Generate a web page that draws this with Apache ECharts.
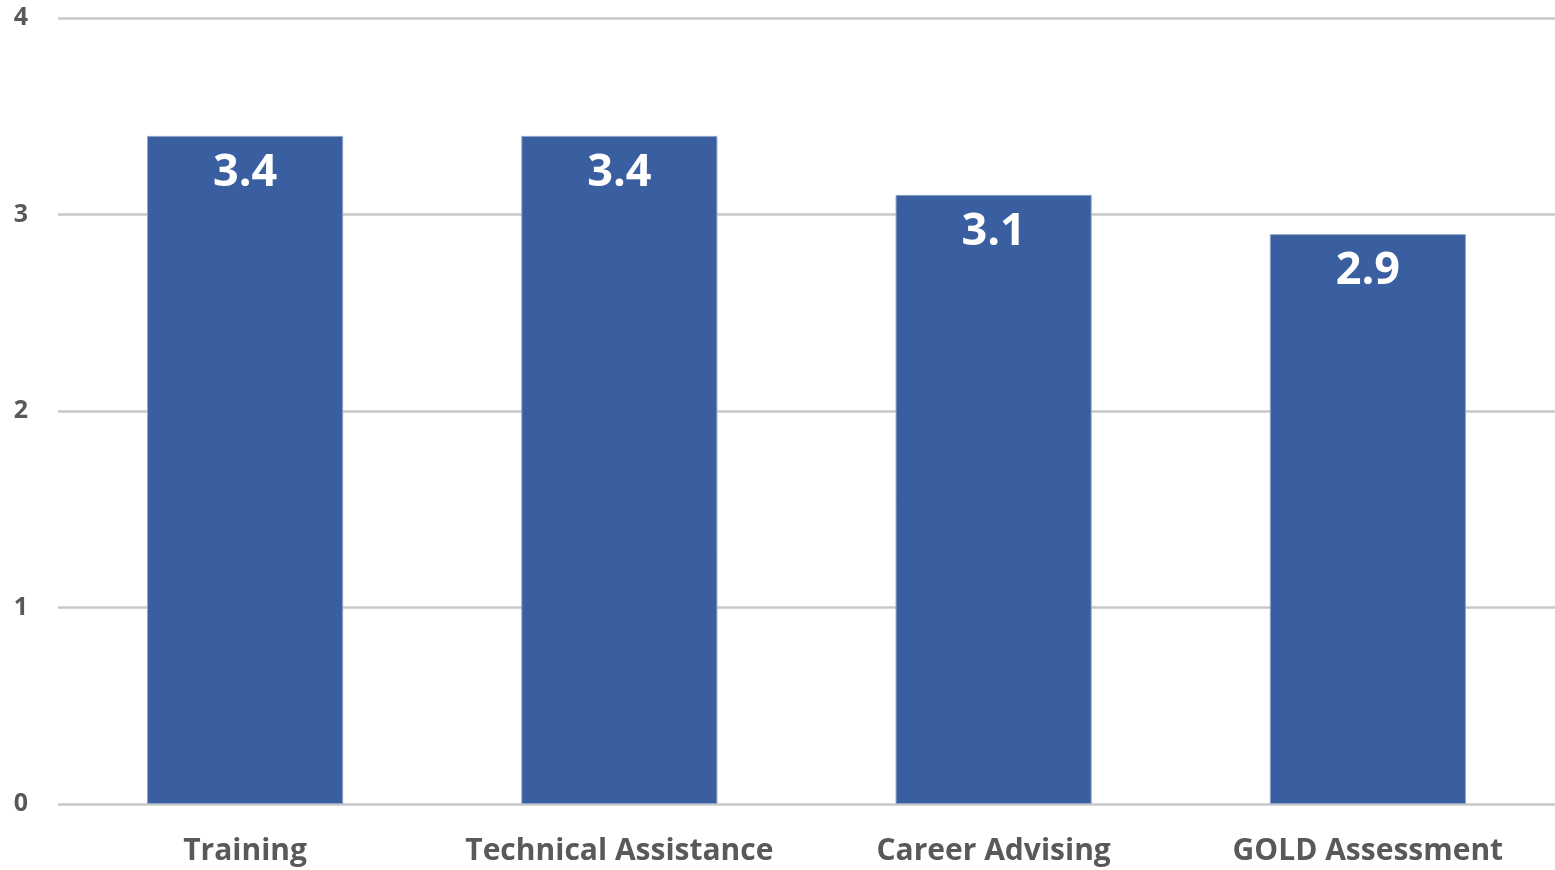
<!DOCTYPE html>
<html><head><meta charset="utf-8">
<script src="https://cdn.jsdelivr.net/npm/echarts@6/dist/echarts.min.js"></script>
<style>html,body{margin:0;padding:0;background:#fff}#c{width:1555px;height:870px}</style>
</head><body><div id="c"></div>
<script>
const categories = ["Training", "Technical Assistance", "Career Advising", "GOLD Assessment"];
const values = [3.4, 3.4, 3.1, 2.9];
const yTicks = [0, 1, 2, 3, 4];

const chart = echarts.init(document.getElementById('c'));
chart.setOption({
  animation: false,
  grid: {left: 58, right: 0, top: 18, bottom: 66, containLabel: false},
  xAxis: {
    type: 'category', data: categories,
    axisLine: {show: false}, axisTick: {show: false},
    axisLabel: {interval: 0, color: '#595959', fontFamily: 'Open Sans', fontWeight: 'bold', fontSize: 30, margin: 32}
  },
  yAxis: {
    type: 'value', min: yTicks[0], max: yTicks[yTicks.length-1], interval: 1,
    axisLine: {show: false}, axisTick: {show: false},
    axisLabel: {color: '#595959', fontFamily: 'Open Sans', fontWeight: 'bold', fontSize: 25, margin: 30},
    splitLine: {lineStyle: {color: '#C8C8C8', width: 2.5}}
  },
  series: [{
    type: 'bar', data: values, barWidth: '52.4%',
    itemStyle: {color: '#3A5FA0', borderColor: '#8FA3C8', borderWidth: 1},
    label: {show: true, position: 'insideTop', distance: 15, color: '#fff', fontFamily: 'Open Sans', fontWeight: 'bold', fontSize: 45,
      formatter: p => p.value.toFixed(1)}
  }]
});
</script></body></html>
